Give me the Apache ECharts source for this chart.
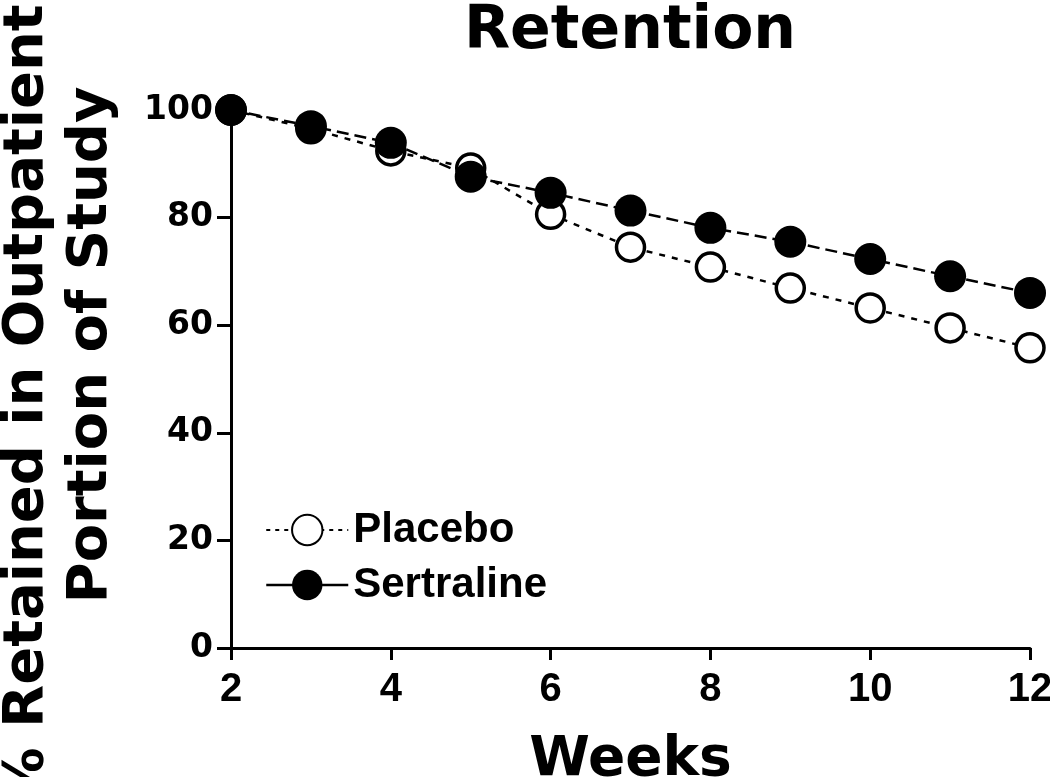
<!DOCTYPE html>
<html>
<head>
<meta charset="utf-8">
<script src="https://cdn.jsdelivr.net/npm/echarts@6/dist/echarts.min.js"></script>
<style>html,body{margin:0;padding:0;background:#fff;}#c{width:1050px;height:777px;}</style>
</head>
<body>
<div id="c"></div>
<script>
const weeks = [2, 3, 4, 5, 6, 7, 8, 9, 10, 11, 12];
const placebo = [100, 96.5, 92.4, 89.2, 80.6, 74.5, 70.8, 66.9, 63.2, 59.5, 55.8];
const sertraline = [100, 97, 93.9, 87.6, 84.6, 81.3, 78.1, 75.5, 72.3, 69.1, 66];
const xTicks = [2, 4, 6, 8, 10, 12];
const yTicks = [0, 20, 40, 60, 80, 100];
const titleText = 'Retention';
const xName = 'Weeks';
const yName1 = '% Retained in Outpatient';
const yName2 = 'Portion of Study';

const chart = echarts.init(document.getElementById('c'), null, {renderer: 'canvas'});
const axisFont = 'DejaVu Sans';
const pair = arr => weeks.map((w, i) => [w, arr[i]]);

chart.setOption({
  backgroundColor: '#fff',
  animation: false,
  grid: {left: 231, right: 20, top: 110, bottom: 129, containLabel: false, outerBoundsMode: 'none'},
  legend: {
    orient: 'vertical', left: 260, top: 504, itemWidth: 82, itemHeight: 38, itemGap: 13,
    textStyle: {fontFamily: 'Liberation Sans', fontWeight: 'bold', fontSize: 42, color: '#000'},
    data: [
      {name: 'Placebo', lineStyle: {type: [4, 5], width: 2, color: '#000'}},
      {name: 'Sertraline', lineStyle: {type: 'solid', width: 2.5, color: '#000'}}
    ]
  },
  xAxis: {
    type: 'value', min: 2, max: 12, interval: 2,
    name: xName, nameLocation: 'middle', nameGap: 85,
    nameTextStyle: {fontFamily: axisFont, fontWeight: 'bold', fontSize: 55, color: '#000'},
    axisLine: {show: true, lineStyle: {color: '#000', width: 3}},
    axisTick: {show: true, length: 12, lineStyle: {color: '#000', width: 3}},
    axisLabel: {margin: 22, fontFamily: 'Liberation Sans Narrow, Liberation Sans', fontWeight: 'bold', fontSize: 40, color: '#000',
      formatter: v => xTicks.includes(v) ? String(v) : ''},
    splitLine: {show: false}
  },
  yAxis: {
    type: 'value', min: 0, max: 100, interval: 20,
    axisLine: {show: true, lineStyle: {color: '#000', width: 3}},
    axisTick: {show: true, length: 14, lineStyle: {color: '#000', width: 3}},
    axisLabel: {margin: 18, fontFamily: axisFont, fontWeight: 'bold', fontSize: 33, color: '#000',
      formatter: v => yTicks.includes(v) ? String(v) : ''},
    splitLine: {show: false}
  },
  graphic: [
    {type: 'text', x: 630, y: 2,
      style: {text: titleText, fontFamily: axisFont, fontWeight: 'bold', fontSize: 60, fill: '#000', align: 'center', verticalAlign: 'top'}},
    {type: 'text', x: 27, y: 404, rotation: Math.PI / 2,
      style: {text: yName1, fontFamily: axisFont, fontWeight: 'bold', fontSize: 56, fill: '#000', align: 'center', verticalAlign: 'middle'}},
    {type: 'text', x: 91, y: 345, rotation: Math.PI / 2,
      style: {text: yName2, fontFamily: axisFont, fontWeight: 'bold', fontSize: 56, fill: '#000', align: 'center', verticalAlign: 'middle'}}
  ],
  series: [
    {
      name: 'Placebo', type: 'line', data: pair(placebo), z: 2,
      symbol: 'circle', symbolSize: 28, clip: false,
      lineStyle: {color: '#000', width: 2.5, type: [6, 7]},
      itemStyle: {color: '#fff', borderColor: '#000', borderWidth: 3.5}
    },
    {
      name: 'Sertraline', type: 'line', data: pair(sertraline), z: 3,
      symbol: 'circle', symbolSize: 32, clip: false,
      lineStyle: {color: '#000', width: 2.5, type: [12, 6]},
      itemStyle: {color: '#000', borderColor: '#000', borderWidth: 0}
    }
  ]
});
</script>
</body>
</html>
